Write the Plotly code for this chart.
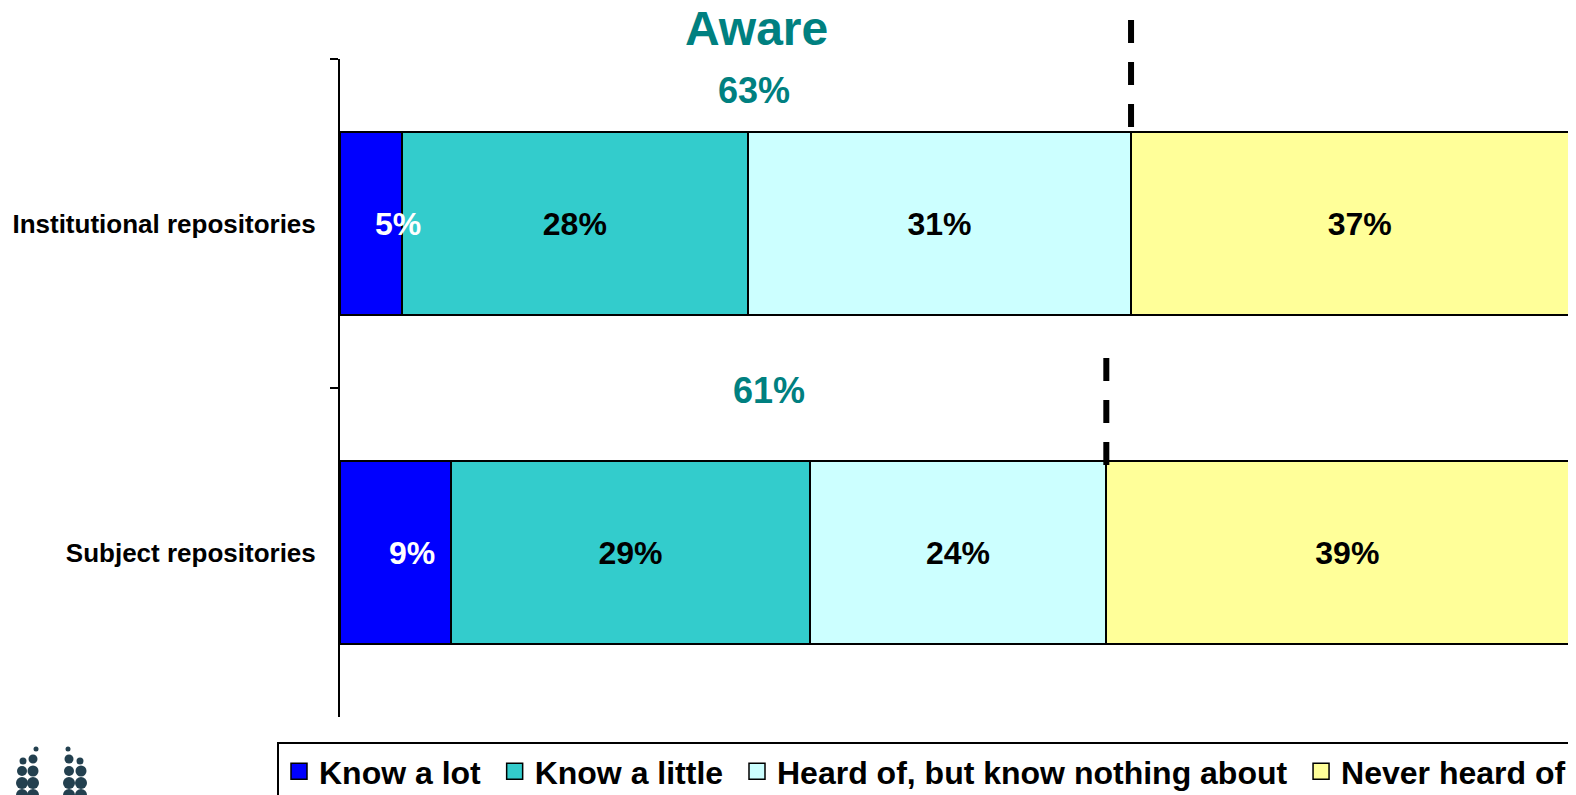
#%% IMPORTS

import plotly.graph_objects as go

#%% DATA

categories = ['Institutional repositories', 'Subject repositories']
series_names = ['Know a lot', 'Know a little', 'Heard of, but know nothing about', 'Never heard of']
know_a_lot = [5, 9]
know_a_little = [28, 29]
heard_of = [31, 24]
never_heard = [37, 39]
aware_labels = ['63%', '61%']
title_text = 'Aware'

#%% STYLE

colors = ['#0000FF', '#33CCCC', '#CCFFFF', '#FFFF99']
teal = '#008080'
FONT = 'Liberation Sans, Arial, sans-serif'
W, H = 1576, 795
BODY = 8  # page body margin around the plot div
# plot area in page pixels
P_L, P_R, P_T, P_B = 340, 1576, 59, 717
M_L, M_R = P_L - BODY, W - (P_R - BODY)
M_T, M_B = P_T - BODY, H - (P_B - BODY)
plot_w = P_R - P_L
plot_h = P_B - P_T


def px_to_paper(px, py):
    return (px - P_L) / plot_w, (P_B - py) / plot_h


#%% FIGURE

fig = go.Figure()

series = [know_a_lot, know_a_little, heard_of, never_heard]
for i, (name, vals) in enumerate(zip(series_names, series)):
    fig.add_trace(go.Bar(
        y=categories,
        x=vals,
        name=name,
        orientation='h',
        marker=dict(color=colors[i], line=dict(color='black', width=2)),
        text=['' if i == 0 else f'<b>{v}%</b>' for v in vals],
        textposition='inside',
        insidetextanchor='middle',
        constraintext='none',
        textfont=dict(family=FONT, size=32, color='black'),
        hoverinfo='skip',
        showlegend=False,
    ))
    # legend entry with a bigger square swatch
    fig.add_trace(go.Scatter(
        x=[None], y=[None], mode='markers', name=name + '\u00a0',
        marker=dict(symbol='square', size=16, color=colors[i],
                    line=dict(color='black', width=1.5)),
        hoverinfo='skip',
    ))

# "Know a lot" labels sit a little right of the segment centre
label_shift = [27, 16]
for j, cat in enumerate(categories):
    fig.add_annotation(
        x=know_a_lot[j] / 2, y=j, xref='x', yref='y',
        text=f'<b>{know_a_lot[j]}%</b>', showarrow=False, xshift=label_shift[j],
        font=dict(family=FONT, size=32, color='white'),
    )

# aware totals + dashed separators
xmax = 100
aware_y_offset = [-0.403, -0.491]
aware_x = [33.5, 34.7]
dash_px = [(20, 130), (358, 466)]
for j, cat in enumerate(categories):
    fig.add_annotation(
        x=aware_x[j], y=j + aware_y_offset[j], xref='x', yref='y',
        text=f'<b>{aware_labels[j]}</b>', showarrow=False,
        font=dict(family=FONT, size=36, color=teal),
    )
    cum = know_a_lot[j] + know_a_little[j] + heard_of[j]
    _, y0 = px_to_paper(0, dash_px[j][0])
    _, y1 = px_to_paper(0, dash_px[j][1])
    fig.add_shape(
        type='line', xref='paper', yref='paper',
        x0=cum / xmax, x1=cum / xmax, y0=y0, y1=y1,
        line=dict(color='black', width=6, dash='23px,19px'),
    )

_, ty = px_to_paper(0, 28)
fig.add_annotation(
    x=33.7, y=ty, xref='x', yref='paper', yanchor='middle',
    text=f'<b>{title_text}</b>', showarrow=False,
    font=dict(family=FONT, size=48, color=teal),
)

# logo (decorative dots)
logo_dots = [
    (36, 749, 2.5), (33, 759, 4.5), (23, 761, 3.5), (22, 771, 5), (33, 771, 5.5),
    (22, 783, 6), (33, 783, 6), (22, 795, 6), (33, 795, 6),
    (68, 749, 2.5), (69, 759, 4.5), (80, 761, 3.5), (69, 771, 5), (81, 771, 5.5),
    (69, 783, 6), (81, 783, 6), (69, 795, 6), (81, 795, 6),
]
for cx, cy, r in logo_dots:
    x0, y0 = px_to_paper(cx - r, cy + r)
    x1, y1 = px_to_paper(cx + r, cy - r)
    fig.add_shape(type='circle', xref='paper', yref='paper',
                  x0=x0, x1=x1, y0=y0, y1=y1,
                  fillcolor='#23404F', line=dict(width=0), layer='above')

lx, ly = px_to_paper(277, 742)

fig.update_layout(
    barmode='stack',
    bargap=0.444,
    width=W, height=H,
    margin=dict(l=M_L, r=M_R, t=M_T, b=M_B, autoexpand=False),
    plot_bgcolor='white',
    paper_bgcolor='white',
    showlegend=True,
    legend=dict(
        orientation='h', x=lx, y=ly, xanchor='left', yanchor='top',
        bordercolor='black', borderwidth=2,
        font=dict(family=FONT, size=32, color='black', weight='bold'),
        traceorder='normal',
    ),
    xaxis=dict(range=[0, xmax], visible=False, fixedrange=True),
    yaxis=dict(
        categoryorder='array', categoryarray=categories, autorange='reversed',
        showline=True, linecolor='black', linewidth=2,
        ticks='outside', ticklen=8, tickwidth=2, tickcolor='black',
        tickson='boundaries', showgrid=False, zeroline=False,
        tickfont=dict(family=FONT, size=26, color='black', weight='bold'),
        ticklabelstandoff=17,
    ),
)

fig.write_html('out.html')
